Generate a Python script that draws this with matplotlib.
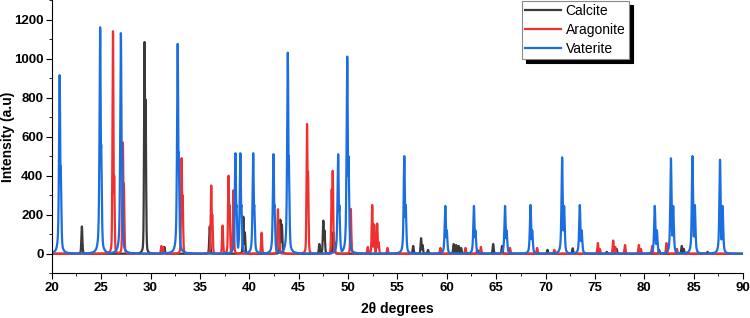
import numpy as np
import matplotlib
matplotlib.use("Agg")
import matplotlib.pyplot as plt
from matplotlib.ticker import MultipleLocator

plt.rcParams['font.family'] = ['Liberation Sans', 'DejaVu Sans']

# peak lists: (2theta, intensity)
calcite_pos = [23.05, 29.40, 29.50, 31.40, 36.00, 39.40, 39.55, 43.15, 43.30,
               47.10, 47.50, 47.62, 48.50, 48.62, 56.60, 57.40, 57.55, 58.10,
               60.70, 60.95, 61.20, 61.45, 63.10, 64.70, 65.60, 70.20, 72.75,
               76.20, 77.20, 81.50, 83.80, 84.00, 86.40]
calcite_int = [140, 1085, 790, 35, 140, 190, 110, 175, 150,
               50, 170, 120, 110, 60, 40, 80, 45, 20,
               50, 45, 40, 30, 20, 50, 40, 20, 28,
               10, 25, 20, 40, 25, 10]

aragonite_pos = [26.20, 26.32, 27.20, 27.30, 31.10, 31.25, 33.15, 33.25, 36.15,
                 36.25, 37.30, 37.90, 38.00, 38.40, 41.25, 42.90, 43.00, 45.85,
                 45.95, 48.35, 48.45, 50.28, 52.00, 52.45, 52.65, 52.95, 53.10,
                 54.00, 59.35, 61.90, 63.45, 66.40, 69.15, 70.90, 75.30, 75.50,
                 76.85, 77.05, 78.05, 79.45, 79.65, 80.80, 82.25, 83.30]
aragonite_int = [1140, 400, 570, 360, 40, 35, 490, 300, 350,
                 200, 145, 400, 250, 325, 108, 228, 150, 665,
                 420, 330, 425, 230, 35, 250, 150, 155, 60,
                 30, 30, 30, 35, 30, 30, 20, 55, 25,
                 68, 35, 45, 45, 25, 40, 55, 25]

vaterite_pos = [20.80, 20.90, 24.90, 25.00, 27.00, 27.10, 32.75, 32.85, 38.60,
                38.70, 39.10, 39.20, 40.40, 40.50, 42.45, 42.55, 43.90, 44.00,
                49.00, 49.12, 49.92, 50.05, 55.70, 55.84, 59.85, 60.00, 62.75,
                62.90, 65.90, 66.06, 68.48, 68.65, 71.68, 71.88, 73.47, 73.66,
                81.06, 81.28, 82.70, 82.93, 84.88, 85.12, 87.67, 87.93]
vaterite_int = [915, 450, 1160, 560, 1130, 550, 1075, 520, 515,
                250, 515, 250, 515, 250, 510, 250, 1030, 500,
                510, 250, 1010, 500, 500, 250, 245, 120, 245,
                120, 245, 120, 250, 120, 494, 245, 250, 120,
                245, 120, 489, 245, 500, 250, 482, 245]

labels = ['Calcite', 'Aragonite', 'Vaterite']
colors = ['#3a3a3a', '#f03030', '#1a6ee0']


def profile(x, pos, inten, w, eta):
    # pseudo-Voigt envelope of a stick pattern (max, so peak heights stay as read)
    y = np.zeros_like(x)
    for p, h in zip(pos, inten):
        d = (x - p) / w
        y = np.maximum(y, h * (eta / (1 + d ** 2) + (1 - eta) * np.exp(-np.log(2) * d ** 2)))
    return y


x = np.linspace(20, 90, 14001)
series = [profile(x, calcite_pos, calcite_int, 0.06, 0.3),
          profile(x, aragonite_pos, aragonite_int, 0.06, 0.3),
          profile(x, vaterite_pos, vaterite_int, 0.075, 0.65)]

fig = plt.figure(figsize=(7.5, 3.18), dpi=100)
ax = fig.add_axes([0.069, 0.1406, 0.9217, 0.8594])

for y, lab, c in zip(series, labels, colors):
    ax.plot(x, y, color=c, lw=1.6, label=lab)

ax.set_xlim(20, 90)
ax.set_ylim(-100, 1300)
ax.xaxis.set_major_locator(MultipleLocator(5))
ax.xaxis.set_minor_locator(MultipleLocator(2.5))
ax.yaxis.set_minor_locator(MultipleLocator(100))
ax.set_yticks(range(0, 1201, 200))
ax.spines['top'].set_visible(False)
ax.spines['right'].set_visible(False)
ax.tick_params(which='both', direction='out', labelsize=9.5, pad=2)
ax.tick_params(which='major', length=4)
ax.tick_params(which='minor', length=2.5)
for t in ax.get_xticklabels() + ax.get_yticklabels():
    t.set_fontweight('bold')

ax.set_xlabel('2θ degrees', fontsize=10, fontweight='bold', labelpad=6)
ax.set_ylabel('Intensity (a.u)', fontsize=10, fontweight='bold')
ax.yaxis.set_label_coords(-0.053, 0.5)

leg = ax.legend(loc='upper left', bbox_to_anchor=(0.68, 0.998), fontsize=10,
                fancybox=False, edgecolor='#888888', framealpha=1,
                shadow={'color': 'black', 'alpha': 1, 'ox': 3, 'oy': -3},
                handlelength=2.6, handletextpad=0.3, labelspacing=0.35,
                borderpad=0.25, borderaxespad=0)
leg.get_frame().set_linewidth(0.8)

fig.savefig('out.png', dpi=100)
